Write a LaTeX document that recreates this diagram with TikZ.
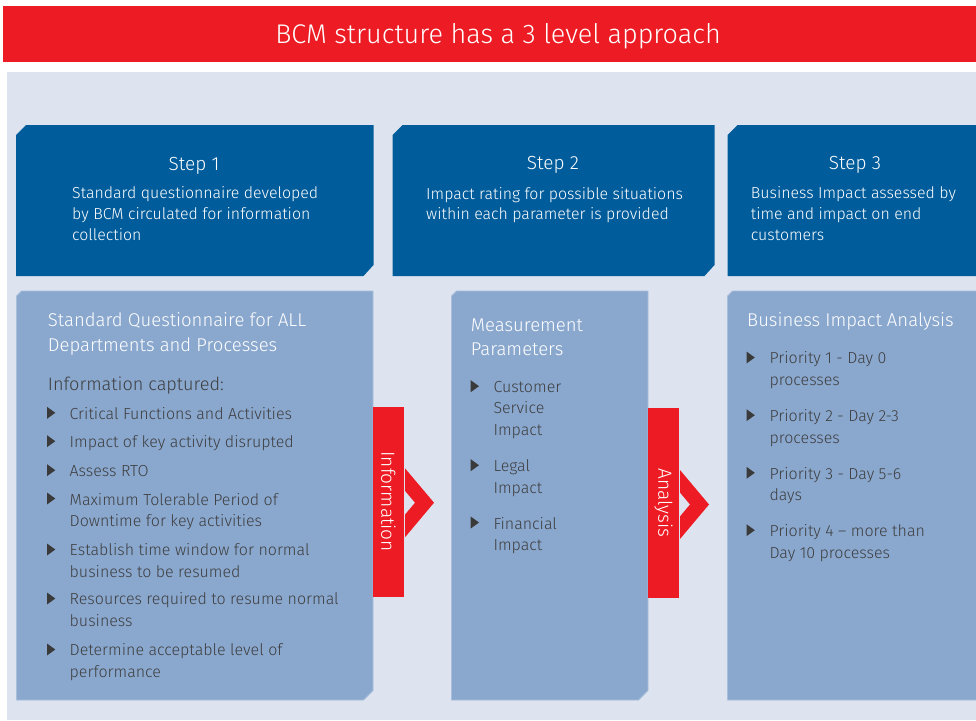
\documentclass[tikz,border=0pt]{standalone}
\usepackage{fontspec}
\setmainfont{Fira Sans Light}
\definecolor{bcmred}{RGB}{237,28,36}
\definecolor{stepblue}{RGB}{0,92,155}
\definecolor{boxblue}{RGB}{138,168,206}
\definecolor{boxedge}{RGB}{168,190,219}
\definecolor{panelc}{RGB}{221,228,239}
\definecolor{textgray}{RGB}{62,62,64}
\definecolor{bulletgray}{RGB}{58,58,58}
% multi-line nodes below are anchored at the baseline of their LAST line
\tikzset{
  titletext/.style={text=white, font=\fontsize{27}{30}\selectfont, anchor=base, inner sep=0},
  steptitle/.style={text=white, font=\fontsize{19}{22}\selectfont, anchor=base, inner sep=0},
  stepbody/.style={text=white, font=\fontsize{15.9}{20.8}\selectfont, align=left, anchor=base west, inner sep=0},
  boxhead/.style={text=white, font=\fontsize{18.5}{24.2}\selectfont, align=left, anchor=base west, inner sep=0},
  subhead/.style={text=textgray, font=\fontsize{18.1}{22}\selectfont, anchor=base west, inner sep=0},
  bultext/.style={text=textgray, font=\fontsize{16}{21.5}\selectfont, align=left, anchor=base west, inner sep=0},
  sidelabel/.style={text=white, font=\fontsize{19}{22}\selectfont, rotate=-90, inner sep=0},
  stepbox/.style={fill=stepblue},
  lowbox/.style={fill=boxblue, draw=boxedge, line width=0.8pt},
}
\newcommand\bultri[2]{\fill[bulletgray] (#1,#2-12.5) -- ++(8.3,6) -- ++(-8.3,6) -- cycle;}
\begin{document}
\begin{tikzpicture}[x=1pt,y=-1pt]
\useasboundingbox (0,0) rectangle (976,720);
\fill[white] (0,0) rectangle (976,720);
% title bar
\fill[bcmred] (3,6) rectangle (976,62);
\node[titletext] (title) at (498,43.3) {BCM structure has a 3 level approach};
% panel
\fill[panelc] (7,72) rectangle (976,720);
% step boxes
\path[stepbox] (16,135) -- (26,125) -- (373.5,125) -- (373.5,265) -- (363.5,276) -- (16,276) -- cycle;
\path[stepbox] (392.5,135) -- (402.5,125) -- (714.5,125) -- (714.5,265) -- (704.5,276) -- (392.5,276) -- cycle;
\path[stepbox] (727.5,135) -- (737.5,125) -- (976,125) -- (976,276) -- (727.5,276) -- cycle;
\node[steptitle] (s1t) at (194,170) {Step 1};
\node[stepbody] (s1b) at (72,240) {Standard questionnaire developed\\by BCM circulated for information\\collection};
\node[steptitle] (s2t) at (553,169.5) {Step 2};
\node[stepbody] (s2b) at (426,219.8) {Impact rating for possible situations\\within each parameter is provided};
\node[steptitle] (s3t) at (855,169.5) {Step 3};
\node[stepbody] (s3b) at (750.7,240) {Business Impact assessed by\\time and impact on end\\customers};
% lower boxes
\path[lowbox] (16.5,296) -- (21.5,291) -- (373,291) -- (373,690.5) -- (363.5,700) -- (16.5,700) -- cycle;
\path[lowbox] (451.5,296) -- (456.5,291) -- (648,291) -- (648,690.5) -- (638.5,700) -- (451.5,700) -- cycle;
\path[lowbox] (727.5,296) -- (732.5,291) -- (977,291) -- (977,700) -- (727.5,700) -- cycle;
% box 1 text
\node[boxhead] (h1) at (47.7,351) {Standard Questionnaire for ALL\\Departments and Processes};
\node[subhead] (cap) at (47.7,390) {Information captured:};
\bultri{47}{419.3}
\node[bultext] (a1) at (69.5,419.3) {Critical Functions and Activities};
\bultri{47}{447.7}
\node[bultext] (a2) at (69.5,447.7) {Impact of key activity disrupted};
\bultri{47}{476.7}
\node[bultext] (a3) at (69.5,476.7) {Assess RTO};
\bultri{47}{505}
\node[bultext] (a4) at (69.5,526.7) {Maximum Tolerable Period of\\Downtime for key activities};
\bultri{47}{556}
\node[bultext] (a5) at (69.5,577) {Establish time window for normal\\business to be resumed};
\bultri{47}{605}
\node[bultext] (a6) at (69.5,626.3) {Resources required to resume normal\\business};
\bultri{47}{656}
\node[bultext] (a7) at (69.5,677.3) {Determine acceptable level of\\performance};
% box 2 text
\node[boxhead] (h2) at (470.7,355.8) {Measurement\\Parameters};
\bultri{470.7}{392.7}
\node[bultext] (m1) at (493.3,435.3) {Customer\\Service\\Impact};
\bultri{470.7}{471.7}
\node[bultext] (m2) at (493.3,493) {Legal\\Impact};
\bultri{470.7}{529}
\node[bultext] (m3) at (493.3,550.5) {Financial\\Impact};
% box 3 text
\node[boxhead] (h3) at (747,326.7) {Business Impact Analysis};
\bultri{746.5}{364}
\node[bultext] (p1) at (769.3,385.3) {Priority 1 - Day 0\\processes};
\bultri{746.5}{421.7}
\node[bultext] (p2) at (769.3,443) {Priority 2 - Day 2-3\\processes};
\bultri{746.5}{479.3}
\node[bultext] (p3) at (769.3,500.6) {Priority 3 - Day 5-6\\days};
\bultri{746.5}{536.7}
\node[bultext] (p4) at (769.3,558) {Priority 4 – more than\\Day 10 processes};
% red connectors
\fill[bcmred] (372.7,406.7) rectangle (404,596.7);
\node[sidelabel] (info) at (388.3,501.7) {Information};
\fill[bcmred] (405,468.3) -- (434,502.7) -- (405,537.3) -- (405,514.6) -- (415,502.7) -- (405,490.8) -- cycle;
\fill[bcmred] (648,408) rectangle (679,598);
\node[sidelabel] (ana) at (663.5,503) {Analysis};
\fill[bcmred] (680,470) -- (709,504.5) -- (680,539) -- (680,516.4) -- (690,504.5) -- (680,492.6) -- cycle;
\end{tikzpicture}
\end{document}
